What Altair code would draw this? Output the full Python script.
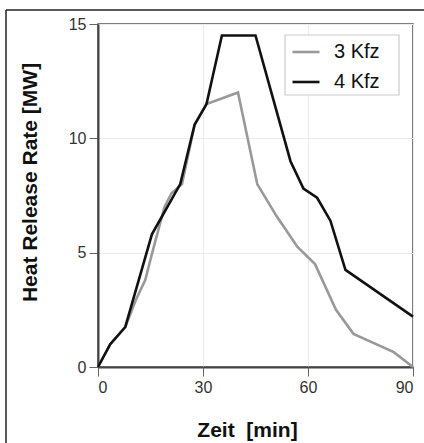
import altair as alt
import pandas as pd

# 3 Kfz series
t3 = [0, 3.5, 7.8, 11, 13.5, 15.5, 19, 21, 24, 27.6, 31, 40, 45.5, 51, 57, 62, 68, 73, 84.5, 90]
v3 = [0, 1.0, 1.75, 3.0, 3.8, 5.0, 7.0, 7.6, 8.0, 10.6, 11.5, 12.0, 8.0, 6.6, 5.25, 4.5, 2.5, 1.45, 0.65, 0]
# 4 Kfz series
t4 = [0, 3.5, 7.8, 15.4, 23.5, 27.6, 31, 35.4, 45, 55, 58.7, 62.6, 66.4, 70.7, 90]
v4 = [0, 1.0, 1.75, 5.8, 8.0, 10.6, 11.5, 14.5, 14.5, 9.0, 7.8, 7.4, 6.4, 4.25, 2.2]

series = ["3 Kfz", "4 Kfz"]
colors = ["#999999", "#111111"]
x_ticks = [0, 30, 60, 90]
y_ticks = [0, 5, 10, 15]

df = pd.concat([
    pd.DataFrame({"t": t3, "v": v3, "s": series[0]}),
    pd.DataFrame({"t": t4, "v": v4, "s": series[1]}),
])

FONT = "Liberation Sans"

lines = alt.Chart(df).mark_line(strokeWidth=2.6).encode(
    x=alt.X("t:Q", scale=alt.Scale(domain=[0, 90], nice=False),
            axis=alt.Axis(values=x_ticks, title="Zeit\u00a0 [min]",
                          titleX=149, titleY=63, titleBaseline="middle",
                          titleAlign="center")),
    y=alt.Y("v:Q", scale=alt.Scale(domain=[0, 15], nice=False),
            axis=alt.Axis(values=y_ticks, title="Heat Release Rate [MW]",
                          titleX=-68, titleY=158, titleBaseline="middle",
                          titleAlign="center")),
    color=alt.Color("s:N", scale=alt.Scale(domain=series, range=colors),
                    legend=alt.Legend(title=None, orient="none",
                                      legendX=193, legendY=13)),
    order=alt.value(0),
)

legend_box = alt.Chart().mark_rect(fill="white", stroke="#cccccc", strokeWidth=1.2).encode(
    x=alt.value(187), x2=alt.value(301), y=alt.value(11), y2=alt.value(71))

frame_left = alt.Chart().mark_rule(color="#222", strokeWidth=1.5).encode(
    x=alt.value(-92), y=alt.value(-14), y2=alt.value(430))
frame_top = alt.Chart().mark_rule(color="#222", strokeWidth=1.5).encode(
    x=alt.value(-92), x2=alt.value(330), y=alt.value(-14))

chart = alt.layer(legend_box, lines, frame_left, frame_top).properties(
    width=315, height=343,
    autosize=alt.AutoSizeParams(type="none"),
    padding={"left": 98, "top": 24, "right": 11, "bottom": 76},
    background="white",
).configure_view(
    stroke="#555", strokeWidth=1.5
).configure_axis(
    labelFont=FONT, titleFont=FONT, labelFontSize=16, labelColor="#333",
    titleFontSize=21, titleFontWeight="bold", titleColor="#111",
    domainColor="#444", domainWidth=2, tickColor="#666", tickSize=9,
    tickWidth=1, labelPadding=3, gridColor="#ececec", gridWidth=1,
).configure_legend(
    labelFont=FONT, labelFontSize=20, labelColor="#111",
    symbolType="stroke", symbolSize=729, symbolStrokeWidth=2.6,
    strokeColor=None, padding=0,
    labelOffset=13, rowPadding=5,
)

chart.save("out.html", embed_options={"renderer": "svg", "actions": False})
